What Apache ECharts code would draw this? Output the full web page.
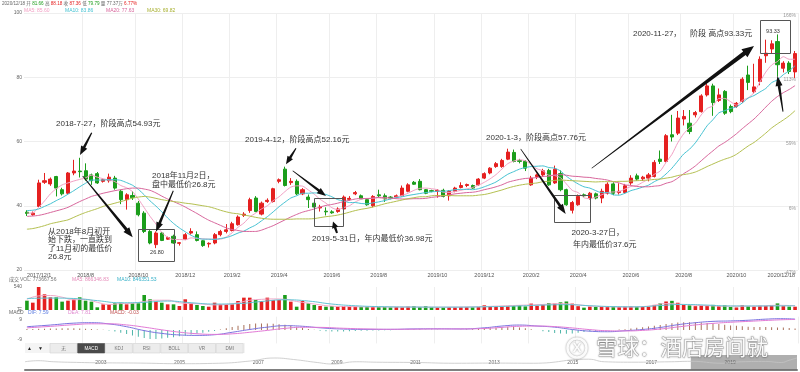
<!DOCTYPE html>
<html><head><meta charset="utf-8">
<script src="https://cdn.jsdelivr.net/npm/echarts@6/dist/echarts.min.js"></script>
<style>html,body{margin:0;padding:0;background:#fff}#c{width:800px;height:372px}</style>
</head><body><div id="c"></div>
<script>
const dates = ['2017/12/1','2017/12/8','2018/6/8','2018/6/15','2018/6/22','2018/6/29','2018/7/6','2018/7/13','2018/7/20','2018/7/27',
'2018/8/3','2018/8/10','2018/8/17','2018/8/24','2018/8/31','2018/9/7','2018/9/14','2018/9/21','2018/9/28','2018/10/12',
'2018/10/19','2018/10/26','2018/11/2','2018/11/9','2018/11/16','2018/11/23','2018/11/30','2018/12/7','2018/12/14','2018/12/21',
'2018/12/28','2019/1/4','2019/1/11','2019/1/18','2019/1/25','2019/2/1','2019/2/15','2019/2/22','2019/3/1','2019/3/8',
'2019/3/15','2019/3/22','2019/3/29','2019/4/4','2019/4/12','2019/4/19','2019/4/26','2019/4/30','2019/5/10','2019/5/17',
'2019/5/24','2019/5/31','2019/6/6','2019/6/14','2019/6/21','2019/6/28','2019/7/5','2019/7/12','2019/7/19','2019/7/26',
'2019/8/2','2019/8/9','2019/8/16','2019/8/23','2019/8/30','2019/9/6','2019/9/12','2019/9/20','2019/9/27','2019/9/30',
'2019/10/11','2019/10/18','2019/10/25','2019/11/1','2019/11/8','2019/11/15','2019/11/22','2019/11/29','2019/12/6','2019/12/13',
'2019/12/20','2019/12/27','2020/1/3','2020/1/10','2020/1/17','2020/1/23','2020/2/7','2020/2/14','2020/2/21','2020/2/28',
'2020/3/6','2020/3/13','2020/3/20','2020/3/27','2020/4/3','2020/4/10','2020/4/17','2020/4/24','2020/4/30','2020/5/8',
'2020/5/15','2020/5/22','2020/5/29','2020/6/5','2020/6/12','2020/6/19','2020/6/24','2020/7/3','2020/7/10','2020/7/17',
'2020/7/24','2020/7/31','2020/8/7','2020/8/14','2020/8/21','2020/8/28','2020/9/4','2020/9/11','2020/9/18','2020/9/25',
'2020/9/30','2020/10/9','2020/10/16','2020/10/23','2020/10/30','2020/11/6','2020/11/13','2020/11/20','2020/11/27','2020/12/4',
'2020/12/11','2020/12/18'];

const opens = [38.0,37.2,39.8,47.3,46.8,49.1,45.0,43.9,50.2,50.8,
50.9,49.6,50.0,47.6,47.8,48.6,44.5,41.9,43.2,40.8,
37.7,32.0,27.9,31.5,29.6,30.5,28.3,29.6,31.5,31.0,
29.1,28.1,28.4,31.0,32.0,32.3,34.1,37.0,38.5,42.4,
37.4,41.3,41.3,47.6,51.4,47.2,47.6,43.7,42.7,40.8,
39.3,38.3,38.1,38.2,39.0,42.0,43.7,43.1,41.9,40.0,
43.4,43.1,42.7,42.7,43.1,44.5,47.3,47.6,45.0,44.7,
44.5,44.8,43.1,44.5,45.7,46.3,46.3,46.5,48.6,50.2,
52.2,52.2,54.5,56.6,54.1,53.8,46.5,49.1,49.6,51.0,
47.1,50.0,45.0,38.6,40.3,43.4,42.4,43.7,42.4,43.9,
46.8,44.1,44.1,47.1,49.3,48.4,48.6,49.1,54.5,53.8,
62.1,62.6,67.0,65.7,68.3,69.3,74.5,77.3,72.8,75.6,
70.9,70.9,72.5,80.7,75.5,78.7,86.7,88.8,91.1,82.8,
84.4,81.66];
const closes = [37.6,37.7,47.1,47.8,48.3,45.5,43.7,50.2,50.8,50.6,
48.3,47.8,47.1,48.1,48.9,45.5,41.9,43.4,42.5,37.2,
32.0,28.4,31.5,29.2,30.1,28.4,28.5,31.0,32.0,29.2,
27.6,28.3,31.0,32.0,32.5,34.4,36.5,37.4,41.9,38.2,
40.8,41.7,45.3,48.1,46.3,47.6,43.7,45.0,41.9,39.6,
39.6,38.1,37.8,39.0,42.7,42.3,44.1,42.1,40.3,42.9,
43.1,42.1,42.4,43.1,45.5,46.5,46.7,45.0,43.9,44.5,
44.8,42.9,44.5,45.5,46.3,46.6,45.5,48.3,50.0,51.7,
53.1,54.1,56.7,53.8,53.8,51.7,48.6,49.6,50.9,46.5,
51.4,45.0,40.3,41.0,42.9,43.1,43.9,42.4,44.5,46.7,
43.9,44.5,46.2,48.6,48.3,48.9,49.6,53.5,53.8,61.8,
61.4,67.3,67.8,63.1,69.0,74.2,77.3,72.1,74.5,68.8,
69.3,71.9,79.4,78.4,77.0,85.6,87.5,90.4,83.9,84.4,
81.8,87.36];
const lows = [36.8,36.9,39.6,46.8,46.2,42.9,43.2,43.5,49.5,48.8,
47.8,46.5,46.8,47.2,47.2,45.0,40.5,38.8,41.8,36.7,
31.5,28.0,26.8,29.0,29.4,28.2,27.6,29.3,31.0,28.9,
27.2,27.0,28.0,30.5,31.4,32.0,33.8,36.5,37.8,38.0,
37.0,40.9,41.0,47.0,46.0,46.5,43.3,43.3,39.3,39.3,
38.2,36.98,37.5,37.8,38.8,41.6,43.3,41.8,40.0,39.5,
42.4,41.2,42.0,42.3,42.9,44.2,46.5,44.8,43.6,44.2,
42.5,42.6,41.6,44.2,45.4,45.8,45.3,46.2,48.3,49.8,
51.8,51.8,54.2,53.5,53.2,50.8,46.2,48.3,49.0,46.2,
46.8,44.5,40.0,37.6,40.0,42.8,41.9,42.0,40.8,43.5,
43.3,43.5,43.7,46.5,47.8,47.7,47.6,48.8,53.0,53.5,
60.0,62.0,65.0,62.3,67.5,69.0,74.0,68.0,72.3,68.3,
68.8,70.5,72.0,76.0,75.0,77.5,84.5,87.5,80.2,81.5,
81.0,79.79];
const highs = [38.6,38.2,48.1,50.2,48.8,49.3,45.6,50.5,54.3,54.93,
53.2,50.0,50.5,48.5,50.0,49.3,45.0,43.9,44.5,41.5,
38.3,32.4,32.0,31.8,30.4,31.0,28.7,31.5,33.0,32.0,
29.3,28.6,31.5,32.5,34.3,35.0,37.0,38.0,42.5,43.0,
41.3,42.3,45.6,48.5,52.16,48.6,48.2,45.5,43.5,41.5,
40.3,39.5,38.6,39.5,43.2,43.0,44.6,43.5,42.2,43.3,
45.0,43.8,43.0,43.5,46.3,47.0,47.7,48.3,45.2,45.0,
45.2,45.3,44.9,45.9,47.3,46.9,46.6,48.6,50.4,52.0,
53.6,54.6,57.76,57.5,54.6,54.2,49.3,50.0,51.5,51.5,
52.5,51.0,45.3,41.5,43.5,43.8,44.3,44.1,45.3,47.3,
47.3,47.0,46.8,49.5,50.0,49.3,50.2,54.2,57.2,62.3,
68.3,69.5,69.8,69.8,69.5,74.7,78.0,78.0,76.5,76.0,
71.5,72.3,80.0,83.6,84.2,86.5,91.7,91.5,93.33,85.0,
85.0,88.18];

const ma5 = [37.7,37.8,39.5,41.5,43.7,45.3,46.5,47.1,47.7,48.2,48.7,49.5,48.9,48.4,48.0,47.5,46.3,45.6,44.4,42.1,
39.4,36.7,34.3,31.7,30.2,29.5,29.5,29.4,30.0,29.8,29.7,29.6,29.6,29.6,30.3,31.6,33.3,34.6,36.5,37.7,
39.0,40.0,41.6,42.8,44.4,45.8,46.2,46.1,44.9,43.6,42.0,40.8,39.4,38.8,39.4,40.0,41.2,42.0,42.3,42.3,
42.5,42.1,42.2,42.7,43.2,43.9,44.8,45.4,45.5,45.3,45.0,44.2,44.1,44.4,44.8,45.2,45.7,46.4,47.3,48.4,
49.7,51.4,53.1,53.9,54.3,54.0,52.9,51.5,50.9,49.5,49.4,48.7,46.8,44.8,44.1,42.5,42.2,42.7,43.4,44.1,
44.3,44.4,45.2,46.0,46.3,47.3,48.3,49.8,50.8,53.5,56.0,59.6,62.4,64.3,65.7,68.3,70.3,71.1,73.4,73.4,
72.4,71.3,72.8,73.6,75.2,78.5,81.6,83.8,84.9,86.4,85.6,85.6];
const ma10 = [38.5,38.6,39.0,39.8,40.6,41.6,42.5,43.6,44.7,45.9,47.0,48.0,48.0,48.0,48.1,48.1,47.9,47.2,46.4,45.1,
43.4,41.5,39.9,38.1,36.2,34.5,33.1,31.9,30.8,30.0,29.6,29.6,29.5,29.8,30.1,30.7,31.5,32.1,33.1,34.0,
35.3,36.6,38.1,39.7,41.1,42.4,43.1,43.9,43.9,44.0,43.9,43.5,42.8,41.9,41.5,41.0,41.0,40.7,40.6,40.9,
41.2,41.6,42.1,42.5,42.8,43.2,43.5,43.8,44.1,44.3,44.5,44.5,44.7,45.0,45.1,45.1,45.0,45.3,45.9,46.6,
47.4,48.6,49.8,50.6,51.4,51.9,52.2,52.3,52.4,51.9,51.7,50.8,49.2,47.9,46.8,45.9,45.5,44.7,44.1,44.1,
43.4,43.3,43.9,44.7,45.2,45.8,46.4,47.5,48.4,49.9,51.7,53.9,56.1,57.6,59.6,62.2,64.9,66.8,68.9,69.6,
70.3,70.8,72.0,73.5,74.3,75.4,76.5,78.3,79.2,80.8,82.0,83.6];
const ma20 = [36.7,36.8,37.0,37.4,37.9,38.4,38.9,39.5,40.4,41.3,42.1,42.9,43.4,43.9,44.3,44.7,45.0,45.3,45.5,45.5,
45.2,44.8,44.0,43.0,42.1,41.3,40.5,39.6,38.6,37.6,36.5,35.5,34.7,33.9,33.1,32.6,32.3,32.0,32.0,32.0,
32.4,33.1,33.8,34.7,35.6,36.5,37.3,38.0,38.5,39.0,39.6,40.1,40.4,40.8,41.3,41.7,42.1,42.3,42.2,42.4,
42.6,42.6,42.4,42.2,42.1,42.1,42.2,42.2,42.3,42.6,42.8,43.1,43.4,43.7,43.9,44.1,44.2,44.5,45.0,45.4,
45.9,46.5,47.3,47.8,48.2,48.5,48.6,48.8,49.1,49.2,49.6,49.7,49.5,49.2,49.1,48.9,48.8,48.5,48.3,48.0,
47.5,47.1,46.5,46.3,46.0,45.9,45.9,46.1,46.3,47.0,47.5,48.6,50.0,51.1,52.4,54.0,55.6,57.1,58.6,59.7,
61.0,62.4,64.0,65.5,67.0,68.8,70.7,72.5,74.0,75.2,76.2,77.4];
const ma30 = [32.7,32.9,33.3,33.8,34.4,34.8,35.2,35.6,36.4,37.2,37.9,38.5,39.1,39.8,40.3,40.8,41.3,41.8,42.4,42.7,
42.9,42.7,42.3,41.9,41.6,41.3,41.1,40.8,40.6,40.3,40.0,39.7,39.2,38.6,38.1,37.7,37.5,37.1,36.8,36.4,
36.1,35.9,35.8,35.8,35.8,35.8,35.9,35.9,35.9,36.0,36.3,36.6,36.8,37.1,37.5,38.0,38.5,38.9,39.2,39.6,
40.1,40.6,41.0,41.4,41.8,42.2,42.5,42.8,42.8,43.1,43.2,43.2,43.2,43.1,43.1,43.1,43.1,43.3,43.5,43.9,
44.4,44.9,45.5,46.0,46.4,46.7,46.9,47.1,47.5,47.6,47.9,48.0,47.9,47.8,47.7,47.6,47.5,47.4,47.5,47.5,
47.5,47.6,47.6,47.7,47.8,47.9,48.0,48.2,48.3,48.6,48.9,49.4,49.7,50.0,50.5,51.3,52.2,53.0,53.8,54.5,
55.1,56.0,57.3,58.6,59.7,61.1,62.6,64.2,65.5,66.7,68.0,69.6];

const volumes = [219,172,540,368,298,298,196,219,251,298,
219,196,63,133,133,157,172,133,157,157,
352,251,196,172,133,133,94,251,157,118,
94,78,172,133,133,133,211,290,290,235,
211,290,235,235,352,196,78,211,157,118,
94,78,94,78,94,78,78,70,70,78,
70,70,63,70,63,80,90,70,90,70,
60,60,70,65,70,70,65,70,110,80,
75,80,90,95,110,85,150,100,120,160,
150,180,200,150,90,55,80,70,75,80,
80,70,75,80,75,70,80,120,155,200,
215,170,120,110,90,110,100,120,90,110,
70,60,110,90,80,100,95,110,155,90,
80,77.37];
const volMa5 = [[0,250],[2,330],[4,340],[6,300],[8,240],[10,250],[12,180],[14,130],[16,150],[18,160],[20,200],[22,230],[24,230],[26,170],[28,150],[30,140],[32,120],[34,130],[36,170],[38,230],[40,250],[42,260],[44,250],[46,200],[48,160],[50,120],[52,90],[55,80],[60,70],[65,70],[70,65],[75,70],[80,90],[84,110],[88,130],[91,150],[94,120],[98,80],[102,70],[106,90],[109,150],[112,130],[116,100],[120,90],[124,90],[128,110],[131,100]];
const volMa10 = [[0,270],[4,280],[8,270],[12,220],[16,170],[20,180],[24,210],[28,170],[32,140],[36,150],[40,200],[44,240],[48,210],[52,140],[56,100],[60,80],[66,70],[72,68],[78,75],[84,95],[88,115],[92,125],[96,100],[100,80],[104,75],[108,105],[112,130],[116,115],[120,95],[126,95],[131,100]];

const dif = [[0,3.0],[4,4.5],[8,6.2],[11,6.6],[14,5.5],[17,3.0],[20,-0.5],[23,-3.0],[26,-4.4],[29,-4.8],[32,-4.2],[35,-2.0],[38,0.5],[41,2.6],[44,3.9],[47,3.4],[50,2.0],[54,0.9],[58,0.6],[62,0.6],[66,1.0],[70,1.1],[74,1.0],[78,2.0],[81,3.6],[84,4.5],[87,3.6],[90,2.6],[93,0.5],[96,-1.0],[99,-1.5],[102,-0.6],[105,0.5],[108,2.3],[111,4.8],[114,6.6],[117,7.8],[120,8.2],[123,8.8],[126,9.8],[129,10.2],[131,9.8]];
const dea = [[0,2.0],[4,3.3],[8,4.8],[11,5.6],[14,5.6],[17,4.6],[20,2.6],[23,0.2],[26,-1.9],[29,-3.3],[32,-3.9],[35,-3.4],[38,-2.0],[41,-0.3],[44,1.5],[47,2.5],[50,2.4],[54,1.6],[58,1.0],[62,0.7],[66,0.8],[70,1.0],[74,1.0],[78,1.4],[81,2.4],[84,3.4],[87,3.6],[90,3.1],[93,1.9],[96,0.4],[99,-0.6],[102,-0.8],[105,-0.3],[108,0.9],[111,2.8],[114,4.6],[117,6.0],[120,7.0],[123,7.8],[126,8.6],[129,9.3],[131,9.5]];
const macdHist = [1.0,1.0,1.2,1.2,1.4,1.4,1.6,1.6,1.6,1.4,1.2,1.0,0.6,0.2,-0.4,-1.2,-2.4,-3.6,-4.8,-6.0,
-7.2,-8.0,-8.0,-7.6,-7.0,-6.4,-5.6,-4.8,-4.0,-3.2,-2.4,-1.6,-0.8,0.4,1.6,2.8,3.8,4.6,5.4,6.0,
6.0,6.0,5.6,5.2,4.8,4.0,3.0,2.0,1.0,0.2,-0.6,-1.0,-1.2,-1.2,-1.2,-1.0,-0.8,-0.6,-0.6,-0.4,
-0.3,-0.2,-0.2,0.0,0.2,0.4,0.4,0.4,0.3,0.2,0.2,0.1,0.0,0.0,0.2,0.4,0.8,1.2,1.6,2.0,
2.4,2.8,3.0,2.8,2.4,1.6,0.8,0.0,-1.0,-1.8,-2.6,-3.2,-3.4,-3.0,-2.4,-1.8,-1.2,-0.8,-0.4,-0.2,
0.0,0.4,0.8,1.4,2.0,2.6,3.2,3.8,4.6,5.4,6.2,6.8,7.0,7.0,7.0,6.8,6.4,6.0,5.4,4.8,
4.2,3.8,3.4,3.0,2.8,2.8,2.8,2.6,2.4,2.2,1.8,1.4];

const xLabelIndex = [0,10,19,27,35,43,52,60,70,78,86,94,103,112,121,131];
const xLabelText = ['2017/12/1','2018/8','2018/10','2018/12','2019/2','2019/4','2019/6','2019/8','2019/10','2019/12','2020/2','2020/4','2020/6','2020/8','2020/10','2020/12/18'];
const priceTicks = [20,40,60,80,100];
const pctTickLabels = ['-47%','6%','59%','113%','166%'];
const volTicks = [0,540];
const volTickLabels = ['万','540'];
const macdTicks = [-9,9];
const navYears = [2003,2005,2007,2009,2011,2013,2015,2017,2019];
const navSeries = [[2001.07,55],[2001.4,62],[2001.8,55],[2002.5,50],[2003,48],[2004,46],[2005,42],[2006,45],[2006.8,60],[2007.4,80],[2007.9,70],[2008.5,50],[2008.9,40],[2009.5,55],[2010,52],[2011,50],[2012,45],[2013,46],[2014,45],[2015.4,72],[2015.8,55],[2016.5,52],[2017.5,55],[2018,58],[2018.8,45],[2019.3,55],[2019.9,57],[2020.3,50],[2020.5,65],[2020.7,80]];
const navWindow = [2018.0, 2020.7];
const infoParts = [['2020/12/18 ','#666'],['开 ','#666'],['81.66 ','#1b9d1b'],['高 ','#666'],['88.18 ','#e52020'],['收 ','#666'],['87.36 ','#e52020'],['低 ','#666'],['79.79 ','#1b9d1b'],['量 ','#666'],['77.37万 ','#666'],['6.77%','#e52020']];
const maLegend = ['MA5: 85.60','MA10: 83.86','MA20: 77.63','MA30: 69.82'];
const volLegend = ['VOL: 773667.56','MA5: 866346.83','MA10: 846351.53'];
const macdLegend = ['DIF: 7.59','DEA: 7.81','MACD: -0.03'];
const buttonLabels = ['无','MACD','KDJ','RSI','BOLL','VR','DMI'];

const RED = '#e52020', GREEN = '#1b9d1b';
const C_MA5 = '#f2a0c4', C_MA10 = '#45c2d2', C_MA20 = '#d8669c', C_MA30 = '#b4c050';
const FONT = "'Liberation Sans','Noto Sans CJK SC',sans-serif";
const labelMap = {}; xLabelIndex.forEach((k, j) => labelMap[k] = xLabelText[j]);
const labelSet = new Set(xLabelIndex);
const splitIdx = new Set(xLabelIndex.slice(1, -1));

const chart = echarts.init(document.getElementById('c'), null, {renderer: 'canvas'});

function rich(parts, size) {
  let text = '', r = {};
  parts.forEach((p, k) => { text += '{p' + k + '|' + p[0] + '}'; r['p' + k] = {fill: p[1], fontSize: size, fontFamily: FONT}; });
  return {text, rich: r};
}
function T(x, y, text, size, color, extra) {
  return Object.assign({type: 'text', x, y, z: 60, silent: true,
    style: Object.assign({text, fill: color || '#333', font: size + 'px ' + FONT, verticalAlign: 'middle', align: 'left'}, (extra || {}))});
}
function arrow(x1, y1, x2, y2, w1, w2, hl, hw) {
  const dx = x2 - x1, dy = y2 - y1, L = Math.hypot(dx, dy), ux = dx / L, uy = dy / L, nx = -uy, ny = ux;
  const bx = x2 - ux * hl, by = y2 - uy * hl;
  return {type: 'polygon', z: 70, silent: true, shape: {points: [
    [x1 + nx * w1 / 2, y1 + ny * w1 / 2], [bx + nx * w2 / 2, by + ny * w2 / 2], [bx + nx * hw / 2, by + ny * hw / 2], [x2, y2],
    [bx - nx * hw / 2, by - ny * hw / 2], [bx - nx * w2 / 2, by - ny * w2 / 2], [x1 - nx * w1 / 2, y1 - ny * w1 / 2]]},
    style: {fill: '#111'}};
}
function box(x1, y1, x2, y2) {
  return {type: 'rect', z: 65, silent: true, shape: {x: x1 + 0.5, y: y1 + 0.5, width: x2 - x1, height: y2 - y1}, style: {fill: 'none', stroke: '#555', lineWidth: 1}};
}

const graphics = [];
graphics.push({type: 'text', x: 2, y: 4, z: 60, style: Object.assign({verticalAlign: 'middle'}, rich(infoParts, 4.6))});
[[24, C_MA5], [65, C_MA10], [106, C_MA20], [147, '#a8b030']].forEach((c, k) => graphics.push(T(c[0], 10.8, maLegend[k], 5, c[1])));
graphics.push(T(9, 280, '成交', 5, '#666'));
graphics.push(T(20, 280, volLegend[0], 5, '#777'));
graphics.push(T(72, 280, volLegend[1], 5, '#e58ab8'));
graphics.push(T(117, 280, volLegend[2], 5, '#35b0c8'));
graphics.push(T(9, 313, 'MACD', 5, '#666'));
graphics.push(T(28, 313, macdLegend[0], 5, '#5b7be0'));
graphics.push(T(68, 313, macdLegend[1], 5, '#e08ad0'));
graphics.push(T(110, 313, macdLegend[2], 5, '#c05050'));
graphics.push({type: 'rect', z: 40, silent: true, shape: {x: 25, y: 343, width: 220, height: 10}, style: {fill: '#f4f4f4'}});
graphics.push(T(27, 348.3, '▲', 5, '#222'));
graphics.push(T(38, 348.3, '▼', 5, '#222'));
buttonLabels.forEach((b, k) => {
  const x = 50 + k * 27.7, on = b === 'MACD';
  graphics.push({type: 'rect', z: 41, silent: true, shape: {x: x, y: 343.5, width: 27, height: 9.5}, style: {fill: on ? '#4a4a4a' : '#ececec', stroke: on ? '#4a4a4a' : '#d4d4d4', lineWidth: 0.6}});
  graphics.push(T(x + 13.5, 348.4, b, 4.6, on ? '#fff' : '#777', {align: 'center'}));
});
const A = 8;
graphics.push(T(56, 123.5, '2018-7-27，阶段高点54.93元', A, '#333'));
graphics.push(T(152, 176, '2018年11月2日，', A, '#333'));
graphics.push(T(152, 184.6, '盘中最低价26.8元', A, '#333'));
graphics.push(T(48, 231.8, '从2018年8月初开', A, '#333'));
graphics.push(T(48, 240.2, '始下跌，一直跌到', A, '#333'));
graphics.push(T(48, 248.4, '了11月初的最低价', A, '#333'));
graphics.push(T(48, 256.4, '26.8元', A, '#333'));
graphics.push(T(245, 139.5, '2019-4-12，阶段高点52.16元', A, '#333'));
graphics.push(T(312, 238.6, '2019-5-31日，年内最低价36.98元', A, '#333'));
graphics.push(T(486, 137.5, '2020-1-3，阶段高点57.76元', A, '#333'));
graphics.push(T(571.5, 232.4, '2020-3-27日，', A, '#333'));
graphics.push(T(573, 245, '年内最低价37.6元', A, '#333'));
graphics.push(T(633, 34, '2020-11-27，', A, '#333'));
graphics.push(T(690, 34, '阶段 高点93.33元', A, '#333'));
graphics.push(T(157, 252.5, '26.80', 5.5, '#333', {align: 'center'}));
graphics.push(T(773, 31.5, '93.33', 5.5, '#333', {align: 'center'}));
graphics.push(box(138, 229, 174, 261));
graphics.push(box(314, 198, 343, 226));
graphics.push(box(554, 195, 590, 222));
graphics.push(box(760, 20, 790, 53));
graphics.push(arrow(91.7, 132.7, 80, 155, 1.2, 2.6, 9, 7));
graphics.push(arrow(82.7, 176, 132.7, 237.3, 0.8, 3, 10, 7.5));
graphics.push(arrow(173.3, 190.7, 156, 231.7, 1, 2.8, 9.5, 7));
graphics.push(arrow(296, 148.3, 286, 164.3, 1, 2.6, 8, 6.5));
graphics.push(arrow(292.7, 170.7, 326, 196, 0.8, 2.6, 9, 6.5));
graphics.push(arrow(337, 233, 333, 221.5, 2, 2.6, 6.5, 6.5));
graphics.push(arrow(520.7, 149, 565.7, 214, 0.6, 2.8, 10, 7));
graphics.push(arrow(591.7, 168.3, 754, 46, 0.6, 4.2, 12, 10));
graphics.push(arrow(783, 111.7, 777.5, 76, 1, 2.8, 10, 7));
graphics.push({type: 'circle', z: 90, silent: true, shape: {cx: 577, cy: 348, r: 9.5}, style: {fill: 'none', stroke: 'rgba(255,255,255,0.95)', lineWidth: 2.6, shadowColor: 'rgba(0,0,0,0.45)', shadowBlur: 2}});
graphics.push({type: 'text', z: 91, silent: true, x: 577, y: 348.5, style: {text: 'X', fill: 'rgba(255,255,255,0.95)', font: 'bold 13px ' + FONT, align: 'center', verticalAlign: 'middle', textShadowColor: 'rgba(0,0,0,0.45)', textShadowBlur: 2}});
graphics.push({type: 'text', z: 91, silent: true, x: 596, y: 349, style: {text: '雪球：酒店房间就', fill: 'rgba(255,255,255,0.95)', font: '21.5px ' + FONT, align: 'left', verticalAlign: 'middle', stroke: 'rgba(120,120,120,0.55)', lineWidth: 0.8, textShadowColor: 'rgba(0,0,0,0.35)', textShadowBlur: 2}});

const catAxisBase = (gi, showLabel) => ({
  type: 'category', gridIndex: gi, data: dates, boundaryGap: true,
  axisLine: {show: false}, axisTick: {show: false},
  axisLabel: showLabel ? {
    show: true, fontSize: 5.5, color: '#555', margin: 3, fontFamily: FONT,
    interval: (idx) => labelSet.has(idx), formatter: (v, idx) => labelMap[idx] || '',
    alignMinLabel: 'left', alignMaxLabel: 'right', hideOverlap: false, showMinLabel: true, showMaxLabel: true
  } : {show: false},
  splitLine: {show: true, interval: (idx) => splitIdx.has(idx), lineStyle: {color: '#eeeeee', width: 1}}
});

const option = {
  animation: false,
  backgroundColor: '#fff',
  grid: [
    {left: 24, right: 2, top: 13, height: 257},
    {left: 24, right: 2, top: 287, height: 23},
    {left: 24, right: 2, top: 316.7, height: 26.7},
    {left: 25, right: 3, top: 355, height: 15}
  ],
  xAxis: [
    catAxisBase(0, true), catAxisBase(1, false), catAxisBase(2, false),
    {type: 'value', gridIndex: 3, min: 2001.07, max: 2020.7, position: 'top',
      axisLine: {show: true, lineStyle: {color: '#808080', width: 2}}, axisTick: {show: false}, splitLine: {show: false},
      axisLabel: {inside: true, customValues: navYears, fontSize: 5, color: '#666', margin: 5, fontFamily: FONT, formatter: (v) => String(v)}}
  ],
  yAxis: [
    {type: 'value', gridIndex: 0, min: 20, max: 100, interval: 20, axisLine: {show: false}, axisTick: {show: false},
      axisLabel: {fontSize: 5, color: '#666', margin: 2, fontFamily: FONT}, splitLine: {lineStyle: {color: '#eeeeee'}}},
    {type: 'value', gridIndex: 0, min: 20, max: 100, interval: 20, position: 'right', axisLine: {show: false}, axisTick: {show: false},
      axisLabel: {inside: true, fontSize: 5, color: '#999', margin: 2, verticalAlign: 'top', fontFamily: FONT,
        formatter: (v) => pctTickLabels[priceTicks.indexOf(v)] || ''}, splitLine: {show: false}},
    {type: 'value', gridIndex: 1, min: 0, max: 540, axisLine: {show: false}, axisTick: {show: false}, splitLine: {show: false},
      axisLabel: {customValues: volTicks, fontSize: 5, color: '#666', margin: 2, fontFamily: FONT,
        formatter: (v) => volTickLabels[volTicks.indexOf(v)]}},
    {type: 'value', gridIndex: 2, min: -12, max: 12, axisLine: {show: false}, axisTick: {show: false}, splitLine: {show: false},
      axisLabel: {customValues: macdTicks, fontSize: 5, color: '#666', margin: 2, fontFamily: FONT}},
    {type: 'value', gridIndex: 3, min: 0, max: 100, show: false}
  ],
  series: [
    {type: 'candlestick', xAxisIndex: 0, yAxisIndex: 0, barWidth: 3.6,
      data: dates.map((d, i) => [opens[i], closes[i], lows[i], highs[i]]),
      itemStyle: {color: RED, color0: GREEN, borderColor: RED, borderColor0: GREEN, borderWidth: 1}},
    {type: 'line', name: 'MA5', xAxisIndex: 0, yAxisIndex: 0, data: ma5, symbol: 'none', smooth: 0.25, lineStyle: {color: C_MA5, width: 1}, z: 3},
    {type: 'line', name: 'MA10', xAxisIndex: 0, yAxisIndex: 0, data: ma10, symbol: 'none', smooth: 0.25, lineStyle: {color: C_MA10, width: 1}, z: 3},
    {type: 'line', name: 'MA20', xAxisIndex: 0, yAxisIndex: 0, data: ma20, symbol: 'none', smooth: 0.25, lineStyle: {color: C_MA20, width: 1}, z: 3},
    {type: 'line', name: 'MA30', xAxisIndex: 0, yAxisIndex: 0, data: ma30, symbol: 'none', smooth: 0.25, lineStyle: {color: C_MA30, width: 1}, z: 3},
    {type: 'bar', xAxisIndex: 1, yAxisIndex: 2, barWidth: 3.6,
      data: volumes.map((v, i) => ({value: v, itemStyle: {color: closes[i] >= opens[i] ? RED : GREEN}}))},
    {type: 'line', xAxisIndex: 1, yAxisIndex: 2, data: volMa5, symbol: 'none', smooth: true, lineStyle: {color: '#f0a8c8', width: 1}, z: 3},
    {type: 'line', xAxisIndex: 1, yAxisIndex: 2, data: volMa10, symbol: 'none', smooth: true, lineStyle: {color: '#62c4d4', width: 1}, z: 3},
    {type: 'bar', xAxisIndex: 2, yAxisIndex: 3, barWidth: 1,
      data: macdHist.map(v => ({value: v, itemStyle: {color: v >= 0 ? '#a8705a' : '#4db5a8'}}))},
    {type: 'line', xAxisIndex: 2, yAxisIndex: 3, data: dif, symbol: 'none', smooth: true, lineStyle: {color: '#7b73e0', width: 1}, z: 3},
    {type: 'line', xAxisIndex: 2, yAxisIndex: 3, data: dea, symbol: 'none', smooth: true, lineStyle: {color: '#e27ad6', width: 1}, z: 3},
    {type: 'line', xAxisIndex: 3, yAxisIndex: 4, data: navSeries, symbol: 'none', smooth: true, lineStyle: {color: '#c4c4c4', width: 0.8},
      markArea: {silent: true, itemStyle: {color: 'rgba(110,110,110,0.55)'}, data: [[{xAxis: navWindow[0]}, {xAxis: navWindow[1]}]]}}
  ],
  graphic: graphics
};
chart.setOption(option);
</script></body></html>
